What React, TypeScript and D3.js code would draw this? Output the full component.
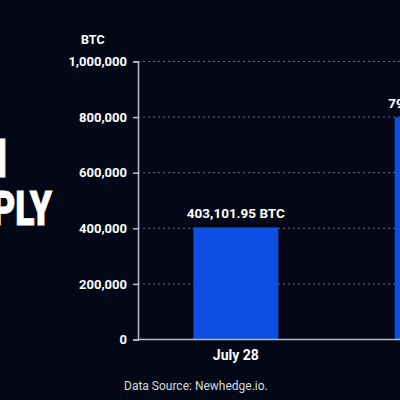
import { useEffect, useRef } from "react";
import * as d3 from "d3";

// chart data
const categories = ["July 28", "Aug 28"];
const values = [403101.95, 799512.3];
const yTicks = [0, 200000, 400000, 600000, 800000, 1000000];
const titleLines = ["BITCOIN", "SUPPLY"];

const App = () => {
  const ref = useRef<SVGSVGElement | null>(null);

  useEffect(() => {
    const svg = d3.select(ref.current);
    svg.selectAll("*").remove();

    const width = 400;
    const height = 400;
    const left = 138;
    const top = 61.5;
    const bottom = 339.5;

    svg.append("rect").attr("width", width).attr("height", height).attr("fill", "#040816");

    // big clipped headline on the left
    const sx = 0.74;
    const head = svg.append("g").attr("transform", `scale(${sx},1)`);
    head
      .append("text")
      .attr("x", 7 / sx)
      .attr("y", 177)
      .attr("text-anchor", "end")
      .attr("font-family", "Roboto, sans-serif")
      .attr("font-weight", 900)
      .attr("font-size", 53)
      .attr("fill", "#ffffff")
      .attr("stroke", "#ffffff")
      .attr("stroke-width", 0.8)
      .text(titleLines[0]);
    head
      .append("text")
      .attr("x", 52 / sx)
      .attr("y", 225)
      .attr("text-anchor", "end")
      .attr("font-family", "Roboto, sans-serif")
      .attr("font-weight", 900)
      .attr("font-size", 48)
      .attr("fill", "#ffffff")
      .attr("stroke", "#ffffff")
      .attr("stroke-width", 0.8)
      .text(titleLines[1]);

    const y = d3.scaleLinear().domain([0, 1000000]).range([bottom, top]);
    const x = d3
      .scaleBand<string>()
      .domain(categories)
      .range([left, 535])
      .paddingInner(0.578)
      .paddingOuter(0.275);

    // dotted gridlines
    svg
      .append("g")
      .selectAll("line")
      .data(yTicks.filter((d) => d > 0))
      .join("line")
      .attr("x1", left)
      .attr("x2", width)
      .attr("y1", (d) => y(d))
      .attr("y2", (d) => y(d))
      .attr("stroke", "#6b6f7c")
      .attr("stroke-width", 1)
      .attr("stroke-dasharray", "2,3");

    // bars
    svg
      .append("g")
      .selectAll("rect")
      .data(values)
      .join("rect")
      .attr("x", (_d, i) => x(categories[i]) as number)
      .attr("y", (d) => y(d))
      .attr("width", x.bandwidth())
      .attr("height", (d) => bottom - y(d))
      .attr("fill", "#0d4fe2");

    // bar labels
    const fmt = d3.format(",.2f");
    svg
      .append("g")
      .selectAll("text")
      .data(values)
      .join("text")
      .attr("x", (_d, i) => (x(categories[i]) as number) + x.bandwidth() / 2)
      .attr("y", (d) => y(d) - 9)
      .attr("text-anchor", "middle")
      .attr("font-family", "Roboto, sans-serif")
      .attr("font-weight", 700)
      .attr("font-size", 13.5)
      .attr("fill", "#ffffff")
      .text((d) => `${fmt(d)} BTC`);

    // y axis
    const yAxis = svg
      .append("g")
      .attr("transform", `translate(${left},0)`)
      .call(
        d3
          .axisLeft(y)
          .tickValues(yTicks)
          .tickSize(5)
          .tickPadding(6)
          .tickFormat((d) => d3.format(",")(d as number))
      );
    yAxis.select(".domain").attr("stroke", "#b9bcc4").attr("stroke-width", 1.5);
    yAxis.selectAll(".tick line").attr("stroke", "#b9bcc4").attr("stroke-width", 1.5);
    yAxis
      .selectAll(".tick text")
      .attr("fill", "#ffffff")
      .attr("font-family", "Roboto, sans-serif")
      .attr("font-weight", 700)
      .attr("font-size", 13);

    // baseline
    svg
      .append("line")
      .attr("x1", left)
      .attr("x2", width)
      .attr("y1", bottom)
      .attr("y2", bottom)
      .attr("stroke", "#b9bcc4")
      .attr("stroke-width", 1.5);

    // category labels
    svg
      .append("g")
      .selectAll("text")
      .data(categories)
      .join("text")
      .attr("x", (d) => (x(d) as number) + x.bandwidth() / 2)
      .attr("y", 360)
      .attr("text-anchor", "middle")
      .attr("font-family", "Roboto, sans-serif")
      .attr("font-weight", 700)
      .attr("font-size", 14)
      .attr("fill", "#ffffff")
      .text((d) => d);

    // unit title
    svg
      .append("text")
      .attr("x", 81)
      .attr("y", 44)
      .attr("font-family", "Roboto, sans-serif")
      .attr("font-weight", 700)
      .attr("font-size", 12.5)
      .attr("fill", "#ffffff")
      .text("BTC");

    // source
    svg
      .append("text")
      .attr("x", 124)
      .attr("y", 390)
      .attr("font-family", "Roboto, sans-serif")
      .attr("font-size", 12)
      .attr("fill", "#d8d9de")
      .text("Data Source: Newhedge.io.");
  }, []);

  return (
    <svg
      ref={ref}
      width={400}
      height={400}
      style={{ position: "fixed", top: 0, left: 0, display: "block" }}
    />
  );
};

export default App;
